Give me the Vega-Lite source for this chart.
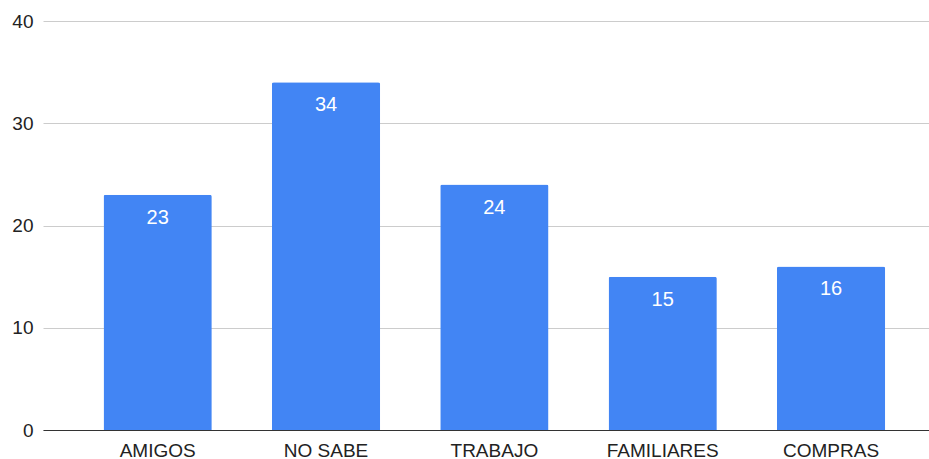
{
  "$schema": "https://vega.github.io/schema/vega-lite/v6.json",
  "width": 886,
  "height": 409,
  "autosize": "none",
  "padding": {"left": 43, "top": 21, "right": 0, "bottom": 29},
  "background": "white",
  "config": {
    "view": {"stroke": null},
    "font": "Liberation Sans",
    "axis": {"labelFont": "Liberation Sans", "labelFontSize": 19, "labelColor": "#222222"}
  },
  "data": {
    "values": [
      {"categoria": "AMIGOS", "valor": 23},
      {"categoria": "NO SABE", "valor": 34},
      {"categoria": "TRABAJO", "valor": 24},
      {"categoria": "FAMILIARES", "valor": 15},
      {"categoria": "COMPRAS", "valor": 16}
    ]
  },
  "encoding": {
    "x": {
      "field": "categoria",
      "type": "nominal",
      "sort": null,
      "scale": {"paddingInner": 0.357, "paddingOuter": 0.31, "align": 0.58},
      "axis": {
        "title": null,
        "labelAngle": 0,
        "ticks": false,
        "labelPadding": 11,
        "domainColor": "#333333",
        "domainWidth": 1,
        "grid": false
      }
    },
    "y": {
      "field": "valor",
      "type": "quantitative",
      "scale": {"domain": [0, 40], "nice": false},
      "axis": {
        "title": null,
        "values": [0, 10, 20, 30, 40],
        "domain": false,
        "ticks": false,
        "labelPadding": 10,
        "gridColor": "#cccccc",
        "gridWidth": 1
      }
    }
  },
  "layer": [
    {
      "mark": {"type": "bar", "color": "#4285F4", "cornerRadiusTopLeft": 2, "cornerRadiusTopRight": 2}
    },
    {
      "mark": {"type": "text", "color": "white", "fontSize": 20, "baseline": "top", "dy": 13, "font": "Liberation Sans"},
      "encoding": {"text": {"field": "valor", "type": "quantitative"}}
    }
  ]
}
